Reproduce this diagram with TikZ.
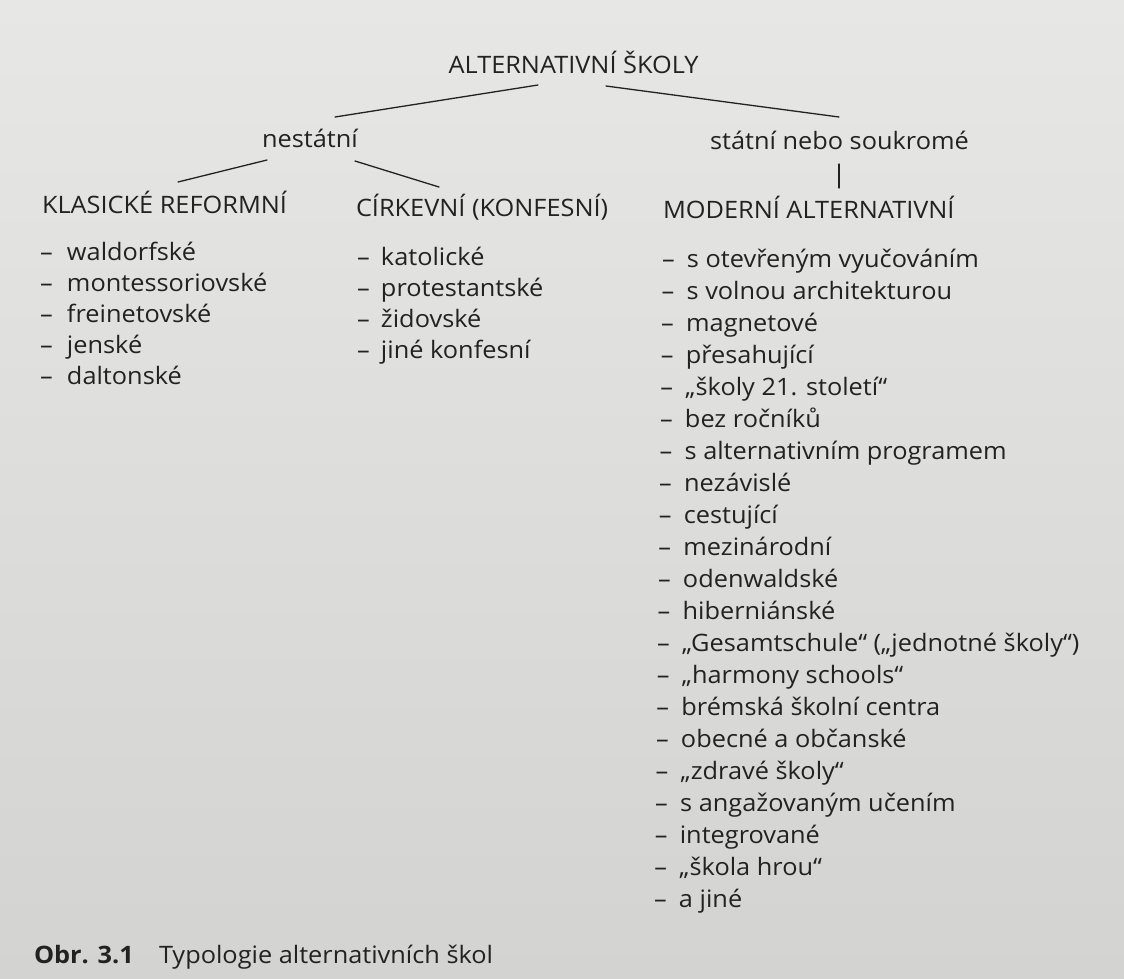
\documentclass[tikz,border=0pt]{standalone}
\usepackage{fontspec}
\setmainfont{Open Sans}[FakeStretch=1.055]
\usetikzlibrary{calc}
\definecolor{ink}{RGB}{34,34,34}
\definecolor{papertop}{RGB}{231,231,229}
\definecolor{paperbot}{RGB}{211,211,209}
\tikzset{
  txt/.style={inner sep=0pt, outer sep=0pt, text=ink, font=\fontsize{24}{28}\selectfont},
  itemnode/.style={txt, anchor=base west},
  conn/.style={draw=ink, line width=1.3pt, line cap=round},
}
\newcommand{\dsh}[1]{\makebox[#1pt][l]{–}}
\begin{document}
\begin{tikzpicture}[x=1pt,y=-1pt]
  \shade[top color=papertop, bottom color=paperbot] (0,0) rectangle (1124,978);
  \useasboundingbox (0,0) rectangle (1124,978);

  % top levels
  \node[txt, anchor=base] (title) at (573.5,73) {ALTERNATIVNÍ ŠKOLY};
  \node[itemnode] (nest) at (262,147) {nestátní};
  \node[itemnode] (stat) at (710,149) {státní nebo soukromé};

  % categories
  \node[itemnode] (klas) at (42,213) {KLASICKÉ REFORMNÍ};
  \node[itemnode] (cirk) at (356,216) {CÍRKEVNÍ (KONFESNÍ)};
  \node[itemnode] (mode) at (663,218) {MODERNÍ ALTERNATIVNÍ};

  % connectors
  \draw[conn] ($(title.base)+(-35.5,12)$) -- ($(nest.base west)+(73,-30)$);
  \draw[conn] ($(title.base)+(32.5,13)$) -- ($(stat.base west)+(129,-32)$);
  \draw[conn] ($(nest.base west)+(5,13)$) -- ($(klas.base west)+(136,-31)$);
  \draw[conn] ($(nest.base west)+(93,14)$) -- ($(cirk.base west)+(83,-29)$);
  \draw[conn] ($(stat.base west)+(129,15)$) -- ($(mode.base west)+(176,-30)$);

  % left column
  \foreach \t [count=\i from 0] in {waldorfské, montessoriovské, freinetovské, jenské, daltonské}
    \node[itemnode] (l\i) at (40,260+31.2*\i) {\dsh{27}\t};

  % middle column
  \foreach \t [count=\i from 0] in {katolické, protestantské, židovské, jiné konfesní}
    \node[itemnode] (m\i) at (357,265+31*\i) {\dsh{24}\t};

  % right column
  \foreach \t [count=\i from 0] in {s otevřeným vyučováním, s volnou architekturou, magnetové, přesahující, „školy 21. století“, bez ročníků, s alternativním programem, nezávislé, cestující, mezinárodní, odenwaldské, hiberniánské, „Gesamtschule“ („jednotné školy“), „harmony schools“, brémská školní centra, obecné a občanské, „zdravé školy“, s angažovaným učením, integrované, „škola hrou“, a jiné}
    \node[itemnode] (r\i) at (662-0.4*\i,267+32*\i) {\dsh{25}\t};

  % caption
  \node[itemnode] (capnum) at (34,963) {\textbf{Obr. 3.1}};
  \node[itemnode] (captxt) at (159,963) {Typologie alternativních škol};
\end{tikzpicture}
\end{document}
